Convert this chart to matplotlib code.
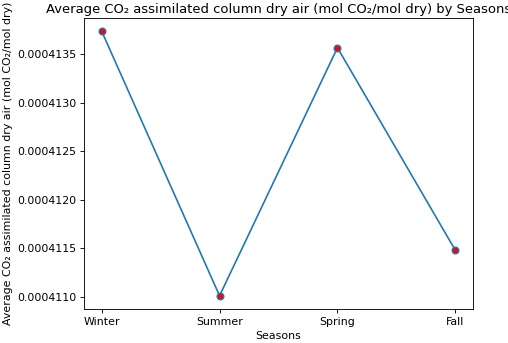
import matplotlib
matplotlib.use('Agg')
import matplotlib.pyplot as plt

seasons = ['Winter', 'Summer', 'Spring', 'Fall']
co2_means = [0.00041374, 0.00041101, 0.00041357, 0.00041148]

# everything shrunk to about 0.79 of the default sizes
s = 0.79
plt.rcParams.update({
    'font.size': 10 * s,
    'lines.linewidth': 1.5 * s,
    'lines.markersize': 6 * s,
    'axes.linewidth': 0.8 * s,
    'xtick.major.size': 3.5 * s,
    'ytick.major.size': 3.5 * s,
    'xtick.major.width': 0.8 * s,
    'ytick.major.width': 0.8 * s,
    'xtick.major.pad': 3.5 * s,
    'ytick.major.pad': 3.5 * s,
    'axes.titlepad': 3.5,
    'axes.labelpad': 4 * s,
})

fig = plt.figure(figsize=(5.08, 3.43), dpi=100)
ax = fig.add_axes([84/508, 1-309/343, (473-84)/508, (309-18)/343])
ax.plot(seasons, co2_means, marker='o', markerfacecolor='red')
ax.set_title('Average CO\u2082 assimilated column dry air (mol CO\u2082/mol dry) by Seasons')
ax.set_xlabel('Seasons')
ax.set_ylabel('Average CO\u2082 assimilated column dry air (mol CO\u2082/mol dry)')
ax.ticklabel_format(axis='y', style='plain', useOffset=False)
fig.savefig('out.png', dpi=100)
